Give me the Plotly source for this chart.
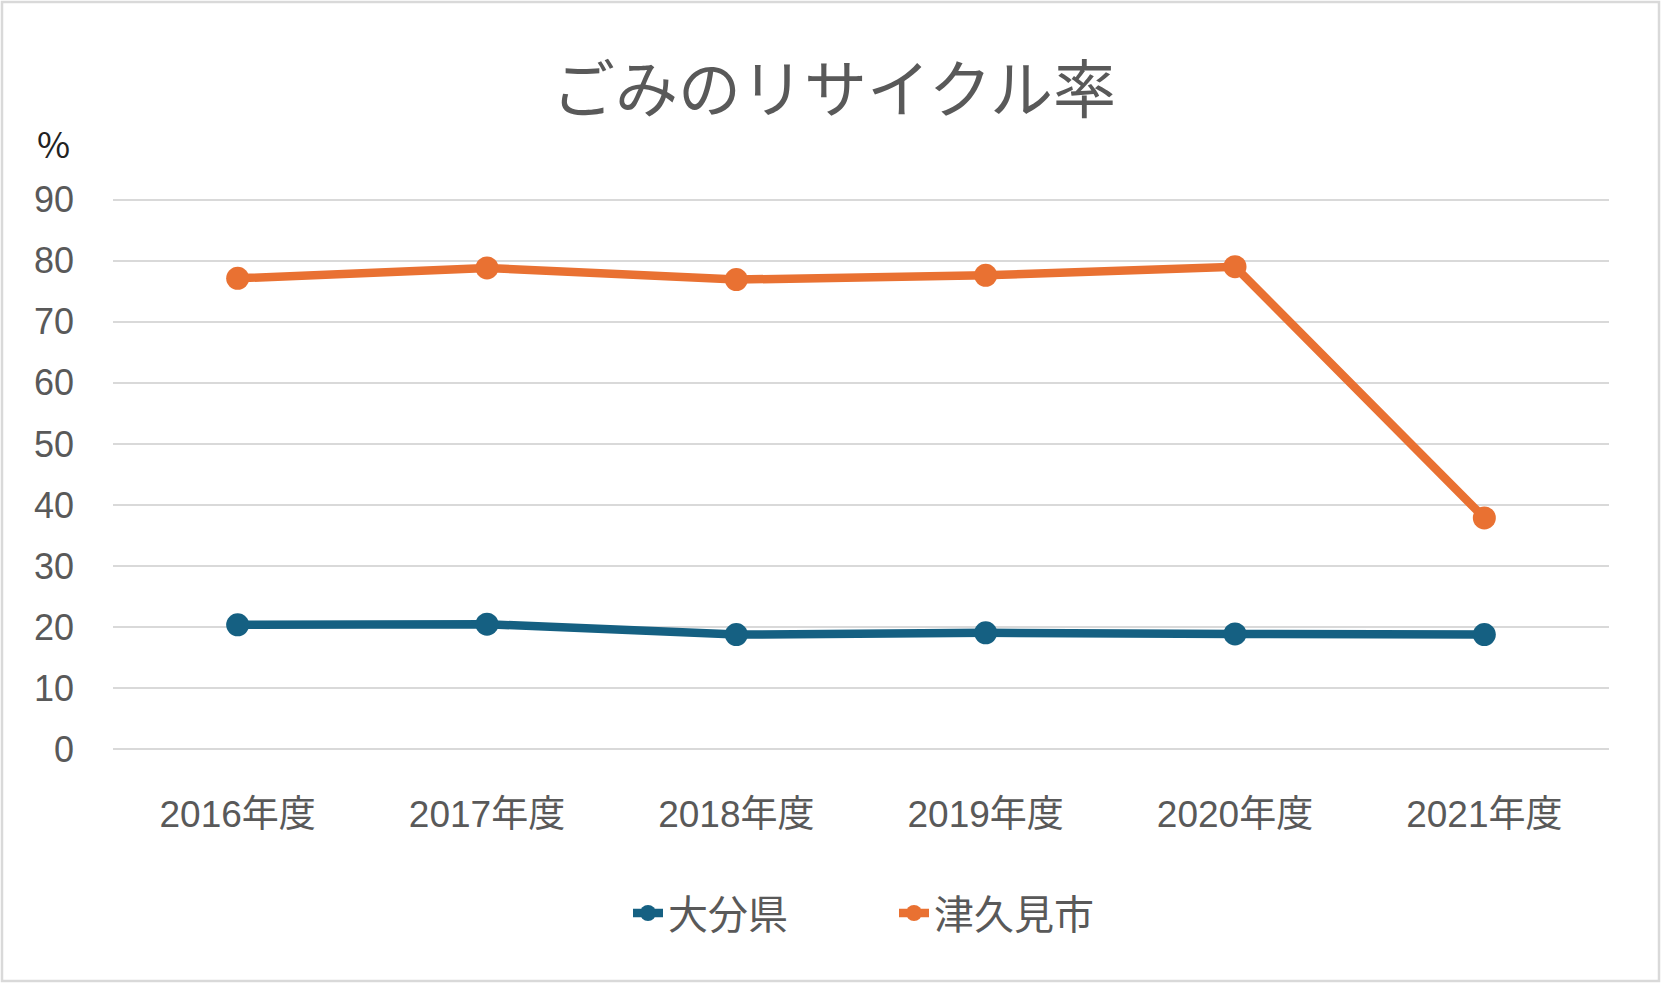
import plotly.graph_objects as go

categories = ["2016年度", "2017年度", "2018年度", "2019年度", "2020年度", "2021年度"]
oita = [20.4, 20.5, 18.8, 19.1, 18.9, 18.8]
tsukumi = [77.1, 78.8, 76.9, 77.6, 79.0, 37.9]
series_names = ["大分県", "津久見市"]
y_ticks = [0, 10, 20, 30, 40, 50, 60, 70, 80, 90]

W, H = 1661, 983
ML, MR, MT, MB = 113, 52, 198, 232
pw, ph = W - ML - MR, H - MT - MB

BLUE = "#156082"
ORANGE = "#E97132"
GRAY = "#595959"
FONT = "Liberation Sans, Noto Sans CJK JP"

fig = go.Figure()
for name, vals, col in [(series_names[0], oita, BLUE), (series_names[1], tsukumi, ORANGE)]:
    fig.add_trace(go.Scatter(
        x=categories, y=vals, name=name, mode="lines+markers",
        line=dict(color=col, width=8.5),
        marker=dict(color=col, size=23),
    ))

def px_x(p):
    return (p - ML) / pw

def px_y(p):
    return (H - MB - p) / ph

fig.update_layout(
    width=W, height=H,
    margin=dict(l=ML, r=MR, t=MT, b=MB),
    paper_bgcolor="white", plot_bgcolor="white",
    font=dict(family=FONT, color=GRAY, size=37),
    title=dict(text="ごみのリサイクル率", x=834 / W, xref="container", xanchor="center",
               y=1 - 90 / H, yref="container", yanchor="middle",
               font=dict(family="Noto Sans CJK JP", size=63, color=GRAY)),
    xaxis=dict(type="category", range=[-0.5, 5.5], showgrid=False, zeroline=False,
               showline=False, ticks="", ticklabelstandoff=38,
               tickfont=dict(family=FONT, size=37, color=GRAY)),
    yaxis=dict(range=[-0.25, 90.25], tickvals=y_ticks, showgrid=True, gridcolor="#D9D9D9",
               gridwidth=2, zeroline=False, showline=False, ticks="",
               ticklabelstandoff=38,
               tickfont=dict(family=FONT, size=36, color=GRAY)),
    legend=dict(orientation="h", x=px_x(628), xanchor="left", y=px_y(913), yanchor="middle",
                font=dict(family="Noto Sans CJK JP", size=40, color=GRAY),
                entrywidth=221, entrywidthmode="pixels", traceorder="normal"),
    showlegend=True,
)

fig.add_annotation(text="%", xref="paper", yref="paper", x=px_x(53), y=px_y(142),
                   xanchor="center", yanchor="middle", showarrow=False,
                   font=dict(family="Noto Sans CJK JP", size=36, color="#222222"))

fig.add_shape(type="rect", xref="paper", yref="paper",
              x0=px_x(2), x1=px_x(W - 2), y0=px_y(H - 2), y1=px_y(2),
              line=dict(color="#D9D9D9", width=2.5), fillcolor="rgba(0,0,0,0)", layer="below")

fig.write_html("out.html", config={"displayModeBar": False},
               post_script="document.body.style.margin='0';document.body.style.overflow='hidden';")
